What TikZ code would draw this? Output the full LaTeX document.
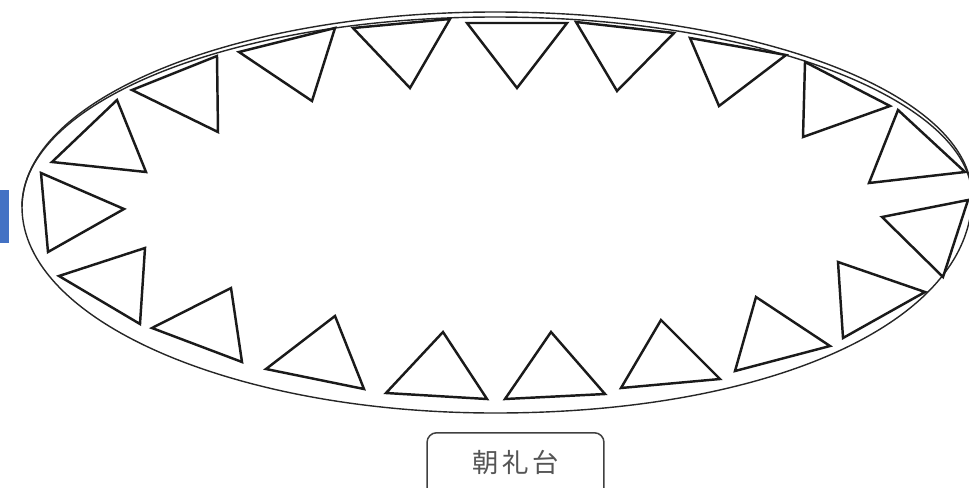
\documentclass[tikz,border=0pt]{standalone}
\usepackage{fontspec}
\newfontfamily\jpfont{Noto Sans CJK JP}
\usetikzlibrary{positioning}
\definecolor{flagInk}{HTML}{1A1A1A}
\definecolor{trackInk}{HTML}{262626}
\definecolor{stageInk}{HTML}{404040}
\definecolor{stageText}{HTML}{555555}
\definecolor{gateBlue}{HTML}{4472C4}

\begin{document}
\begin{tikzpicture}[x=0.02cm,y=-0.02cm,
  flag/.style={flagInk,line width=1.4pt},
  track/.style={trackInk,line width=0.8pt}]
\useasboundingbox (0,0) rectangle (969,487);
\clip (0,0) rectangle (969,487);
% track, outer line
\draw[track] (495,12) .. controls (758.4,12) and (972,94.4) .. (972,196)
  .. controls (972,321.9) and (771.7,413) .. (495,413)
  .. controls (233.8,413) and (22,320.8) .. (22,207)
  .. controls (22,99.3) and (233.8,12) .. cycle;
% inner line, only apart from it along the top
\draw[track] (22,207) .. controls (22,101) and (233.8,17) .. (495,17)
  .. controls (758.4,17) and (970,100) .. (972,196);
% flags around the track
\foreach \ax/\ay/\bx/\by/\cx/\cy in {
  353/28/450/19/410/88, 467/23/567/23/517/88, 576/22/674/33/617/91,
  690/38/786/55/719/106, 805/62/890/106/803/137, 898/110/965/172/869/183,
  882/217/968/200/943/277, 838/262/925/292/843/338, 756/297/830/346/735/371,
  661/320/720/379/621/388, 551/332/605/394/505/399, 443/332/487/399/386/393,
  335/316/364/389/266/369, 231/288/242/362/152/328, 145/248/140/324/59/276,
  41/173/124/209/48/252, 117/100/146/172/52/162, 132/90/217/56/218/132,
  239/52/335/28/312/101}
  \draw[flag] (\ax,\ay)--(\bx,\by)--(\cx,\cy)--cycle;
\fill[gateBlue] (0,190) rectangle (9,243);
\node[draw=stageInk,line width=0.85pt,rounded corners=5.5pt,anchor=north,
  minimum width=3.54cm,inner xsep=0pt,inner ysep=0pt,
  text height=0.8cm,text depth=1.2cm,text=stageText,
  font=\jpfont\fontsize{15pt}{18pt}\selectfont]
  (stage) at (515.5,432) {朝\hspace{2pt}礼\hspace{2pt}台};
\end{tikzpicture}
\end{document}
